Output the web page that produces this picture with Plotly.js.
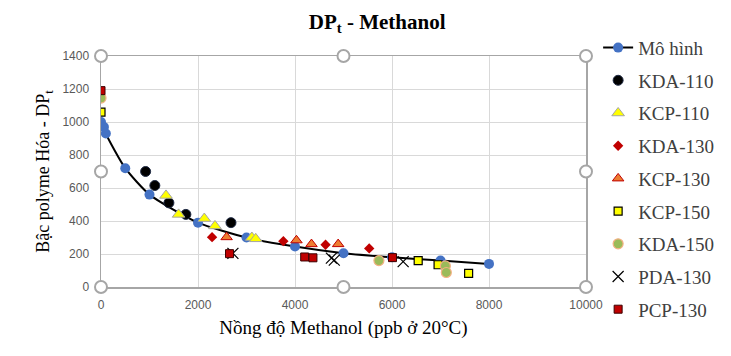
<!DOCTYPE html>
<html>
<head>
<meta charset="utf-8">
<script src="https://cdn.plot.ly/plotly-3.0.1.min.js"></script>
<style>html,body{margin:0;padding:0;background:#fff;}#chart{width:731px;height:356px;}</style>
</head>
<body>
<div id="chart"></div>
<script>
// Model curve
const modelX = [0, 60, 100, 500, 1000, 2000, 3000, 4000, 5000, 6000, 7000, 8000];
const modelY = [1000, 970, 930, 720, 560, 390, 300, 245, 205, 180, 160, 140];
// Experimental series
const kda110X = [920, 1110, 1400, 1750, 2680];
const kda110Y = [700, 615, 510, 440, 390];
const kcp110X = [1340, 1600, 2130, 2350, 3110, 3190];
const kcp110Y = [555, 440, 415, 370, 300, 292];
const kda130X = [2290, 3760, 4630, 5530];
const kda130Y = [302, 278, 256, 234];
const kcp130X = [2590, 4030, 4340, 4890];
const kcp130Y = [302, 283, 260, 260];
const kcp150X = [0, 6540, 6950, 7580];
const kcp150Y = [1060, 160, 135, 82];
const kda150X = [0, 5730, 7100, 7120];
const kda150Y = [1145, 160, 128, 88];
const pda130X = [2720, 4750, 4810, 6230];
const pda130Y = [204, 175, 163, 154];
const pcp130X = [0, 2650, 4200, 4370, 6010];
const pcp130Y = [1190, 202, 182, 177, 178];

const xTicks = [0, 2000, 4000, 6000, 8000, 10000];
const yTicks = [0, 200, 400, 600, 800, 1000, 1200, 1400];

function sc(name, x, y, marker, i) {
  return {type: 'scatter', mode: 'markers', name: name, x: x, y: y, marker: marker,
          legendgroup: 'g' + i, showlegend: true};
}

const traces = [
  {type: 'scatter', mode: 'lines+markers', name: 'Mô hình', x: modelX, y: modelY,
   line: {color: '#000000', width: 2, shape: 'spline', smoothing: 0.6},
   marker: {color: '#4472C4', size: 10}, legendgroup: 'g0'},
  sc('KDA-110', kda110X, kda110Y, {color: '#000000', size: 10, symbol: 'circle', line: {color: '#1F2A44', width: 1}}, 1),
  sc('KCP-110', kcp110X, kcp110Y, {color: '#FFFF00', size: 11, symbol: 'triangle-up', line: {color: '#A5A5A5', width: 1}}, 2),
  sc('KDA-130', kda130X, kda130Y, {color: '#C00000', size: 8, symbol: 'diamond'}, 3),
  sc('KCP-130', kcp130X, kcp130Y, {color: '#ED7D31', size: 10, symbol: 'triangle-up', line: {color: '#C00000', width: 1}}, 4),
  sc('KCP-150', kcp150X, kcp150Y, {color: '#FFFF00', size: 8, symbol: 'square', line: {color: '#000000', width: 1.2}}, 5),
  sc('KDA-150', kda150X, kda150Y, {color: '#9BBB59', size: 10, symbol: 'circle', line: {color: '#F4B183', width: 1.2}}, 6),
  sc('PDA-130', pda130X, pda130Y, {color: '#000000', size: 11, symbol: 'x-thin-open', line: {color: '#000000', width: 1.2}}, 7),
  sc('PCP-130', pcp130X, pcp130Y, {color: '#C00000', size: 8, symbol: 'square', line: {color: '#3A0000', width: 1}}, 8)
];

// Selection handles around the plot area (paper coordinates)
const hx = [0, 0.5, 1];
const hy = [0, 0.5, 1];
const shapes = [];
hx.forEach(function(px) {
  hy.forEach(function(py) {
    if (px === 0.5 && py === 0.5) return;
    shapes.push({type: 'circle', xref: 'paper', yref: 'paper', xsizemode: 'pixel', ysizemode: 'pixel',
      xanchor: px, yanchor: py, x0: -6, x1: 6, y0: -6, y1: 6,
      line: {color: '#A6A6A6', width: 2}, fillcolor: '#FFFFFF', layer: 'above'});
  });
});

const layout = {
  width: 731, height: 356,
  margin: {l: 101, r: 143, t: 56, b: 69},
  paper_bgcolor: '#FFFFFF', plot_bgcolor: '#FFFFFF',
  title: {text: '<b>DP<sub>t</sub> - Methanol</b>', font: {family: 'Liberation Serif', size: 21, color: '#000000'},
          x: 0.516, xref: 'container', xanchor: 'center', y: 0.94, yref: 'container', yanchor: 'middle'},
  xaxis: {range: [0, 10000], tickvals: xTicks, ticktext: xTicks.map(String), showgrid: true, gridcolor: '#D9D9D9',
          zeroline: false, showline: true, mirror: true, linecolor: '#A6A6A6', linewidth: 1.5, ticks: '',
          tickfont: {family: 'Liberation Sans', size: 12, color: '#595959'}, ticklabelstandoff: 6,
          title: {text: 'Nồng độ Methanol (ppb ở 20°C)', font: {family: 'Liberation Serif', size: 19, color: '#000000'}, standoff: 10}},
  yaxis: {range: [0, 1400], tickvals: yTicks, ticktext: yTicks.map(String), showgrid: true, gridcolor: '#D9D9D9',
          zeroline: false, showline: true, mirror: true, linecolor: '#A6A6A6', linewidth: 1.5, ticks: '',
          tickfont: {family: 'Liberation Sans', size: 12, color: '#595959'}, ticklabelstandoff: 8,
          title: {text: 'Bậc polyme Hóa - DP<sub>t</sub>', font: {family: 'Liberation Serif', size: 18, color: '#000000'}, standoff: 8}},
  legend: {x: 1.025, xanchor: 'left', y: 1.118, yanchor: 'top', traceorder: 'grouped', tracegroupgap: 5,
           maxheight: 1000,
           font: {family: 'Liberation Serif', size: 19, color: '#404040'}, bgcolor: 'rgba(0,0,0,0)', itemsizing: 'trace'},
  shapes: shapes,
  showlegend: true
};

Plotly.newPlot('chart', traces, layout, {displayModeBar: false, staticPlot: true});
</script>
</body>
</html>
